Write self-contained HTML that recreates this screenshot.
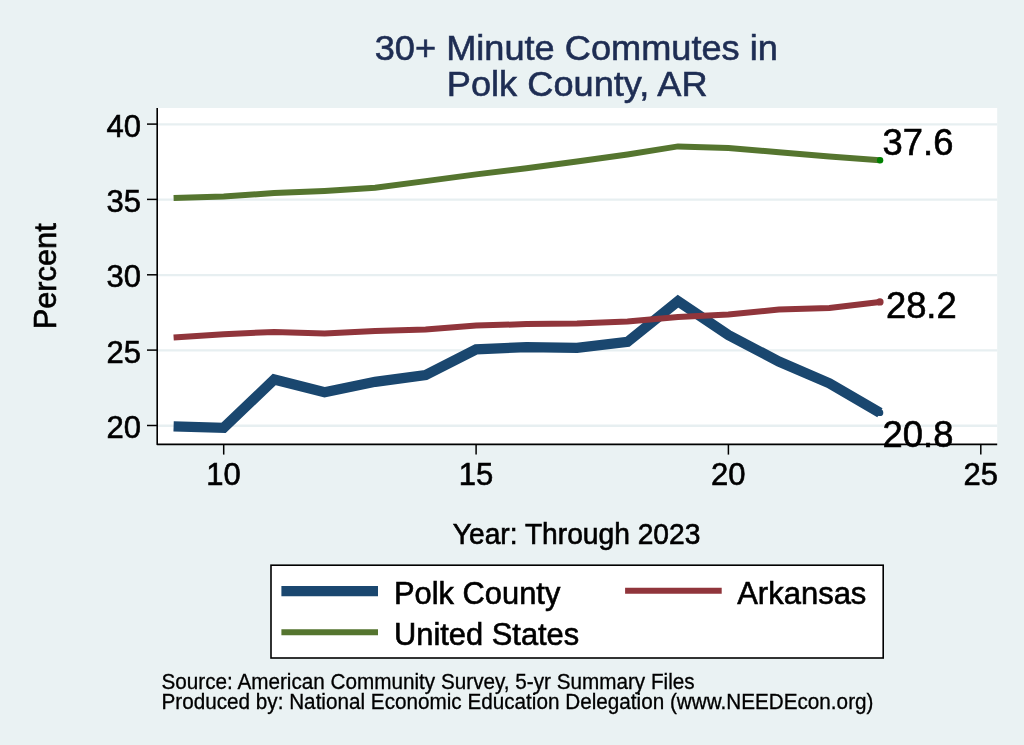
<!DOCTYPE html>
<html lang="en"><head><meta charset="utf-8"><title>30+ Minute Commutes in Polk County, AR</title>
<style>
html,body{margin:0;padding:0;background:#eaf2f3;}
body{width:1024px;height:745px;overflow:hidden;font-family:"Liberation Sans",Arial,Helvetica,sans-serif;}
svg{display:block;}
text{font-family:"Liberation Sans",Arial,Helvetica,sans-serif;}
text.k{fill:#000;stroke:#000;stroke-width:0.6px;}
text.t{fill:#1e2d53;stroke:#1e2d53;stroke-width:0.6px;}
text.n{fill:#000;stroke:#000;stroke-width:0.3px;}
</style></head><body>
<svg width="1024" height="745" viewBox="0 0 1024 745">
<rect x="0" y="0" width="1024" height="745" fill="#eaf2f3"/>
<rect x="157.2" y="108.0" width="840.0" height="336.4" fill="#ffffff"/>
<line x1="157.9" x2="997.2" y1="425.75" y2="425.75" stroke="#e7eff1" stroke-width="2.3"/>
<line x1="157.9" x2="997.2" y1="350.40" y2="350.40" stroke="#e7eff1" stroke-width="2.3"/>
<line x1="157.9" x2="997.2" y1="275.05" y2="275.05" stroke="#e7eff1" stroke-width="2.3"/>
<line x1="157.9" x2="997.2" y1="199.70" y2="199.70" stroke="#e7eff1" stroke-width="2.3"/>
<line x1="157.9" x2="997.2" y1="124.35" y2="124.35" stroke="#e7eff1" stroke-width="2.3"/>
<polyline points="173.6,426.3 223.7,427.8 274.2,379.5 324.6,392.3 375.1,381.8 425.6,375.0 476.1,349.4 526.5,347.1 577.0,347.9 627.5,341.9 678.0,301.2 728.4,335.1 778.9,361.5 829.4,383.3 879.9,412.7" fill="none" stroke="#1a476f" stroke-width="10.3" stroke-linejoin="miter"/>
<circle cx="879.9" cy="412.7" r="3.4" fill="#1a476f"/>
<polyline points="173.6,337.6 223.7,334.3 274.2,331.9 324.6,333.6 375.1,330.9 425.6,329.5 476.1,325.6 526.5,324.1 577.0,323.6 627.5,321.5 678.0,317.0 728.4,314.4 778.9,309.6 829.4,308.0 879.9,301.9" fill="none" stroke="#90353b" stroke-width="6" stroke-linejoin="miter"/>
<circle cx="879.9" cy="301.9" r="3.7" fill="#90353b"/>
<polyline points="173.6,197.9 223.7,196.4 274.2,193.1 324.6,190.9 375.1,187.7 425.6,181.1 476.1,174.4 526.5,168.3 577.0,161.5 627.5,154.5 678.0,146.4 728.4,147.9 778.9,152.3 829.4,156.5 879.9,160.3" fill="none" stroke="#55752f" stroke-width="6" stroke-linejoin="miter"/>
<circle cx="880.1" cy="160.3" r="3.2" fill="#008000"/>
<path d="M157.2,108.0 L157.2,444.4 L997.2,444.4" fill="none" stroke="#000" stroke-width="1.6" stroke-linejoin="round"/>
<line x1="147.0" x2="157.2" y1="425.5" y2="425.5" stroke="#000" stroke-width="1.5"/>
<text class="k" transform="translate(140.9,438.1) scale(1,1.04)" font-size="31" text-anchor="end">20</text>
<line x1="147.0" x2="157.2" y1="350.1" y2="350.1" stroke="#000" stroke-width="1.5"/>
<text class="k" transform="translate(140.9,362.8) scale(1,1.04)" font-size="31" text-anchor="end">25</text>
<line x1="147.0" x2="157.2" y1="274.8" y2="274.8" stroke="#000" stroke-width="1.5"/>
<text class="k" transform="translate(140.9,287.4) scale(1,1.04)" font-size="31" text-anchor="end">30</text>
<line x1="147.0" x2="157.2" y1="199.4" y2="199.4" stroke="#000" stroke-width="1.5"/>
<text class="k" transform="translate(140.9,212.0) scale(1,1.04)" font-size="31" text-anchor="end">35</text>
<line x1="147.0" x2="157.2" y1="124.1" y2="124.1" stroke="#000" stroke-width="1.5"/>
<text class="k" transform="translate(140.9,136.7) scale(1,1.04)" font-size="31" text-anchor="end">40</text>
<line x1="223.7" x2="223.7" y1="444.4" y2="454.6" stroke="#000" stroke-width="1.5"/>
<text class="k" transform="translate(223.6,484.5) scale(1,1.04)" font-size="31" text-anchor="middle">10</text>
<line x1="476.1" x2="476.1" y1="444.4" y2="454.6" stroke="#000" stroke-width="1.5"/>
<text class="k" transform="translate(476.0,484.5) scale(1,1.04)" font-size="31" text-anchor="middle">15</text>
<line x1="728.4" x2="728.4" y1="444.4" y2="454.6" stroke="#000" stroke-width="1.5"/>
<text class="k" transform="translate(728.3,484.5) scale(1,1.04)" font-size="31" text-anchor="middle">20</text>
<line x1="980.8" x2="980.8" y1="444.4" y2="454.6" stroke="#000" stroke-width="1.5"/>
<text class="k" transform="translate(980.7,484.5) scale(1,1.04)" font-size="31" text-anchor="middle">25</text>
<text class="k" transform="translate(882.6,155.2) scale(1,1.015)" font-size="36.4">37.6</text>
<text class="k" transform="translate(885.9,317.9) scale(1,1.015)" font-size="36.4">28.2</text>
<text class="k" transform="translate(882.6,447.4) scale(1,1.015)" font-size="36.4">20.8</text>
<text class="t" transform="translate(576.3,59.7) scale(1,0.99)" font-size="36.2" text-anchor="middle">30+ Minute Commutes in</text>
<text class="t" transform="translate(577.2,95.7) scale(1,0.99)" font-size="36.2" text-anchor="middle">Polk County, AR</text>
<text class="k" transform="translate(576.6,544.3) scale(1,1.04)" font-size="28.2" text-anchor="middle">Year: Through 2023</text>
<text class="k" transform="translate(55.5,276.3) rotate(-90) scale(1,1.04)" font-size="30.8" text-anchor="middle">Percent</text>
<rect x="271" y="565.2" width="612.2" height="92.8" fill="#fff" stroke="#000" stroke-width="1.6"/>
<line x1="281.4" x2="378" y1="591.05" y2="591.05" stroke="#1a476f" stroke-width="10.2"/>
<line x1="281.4" x2="378" y1="632.3" y2="632.3" stroke="#55752f" stroke-width="6"/>
<line x1="625.1" x2="721.7" y1="590.7" y2="590.7" stroke="#90353b" stroke-width="6"/>
<text class="k" transform="translate(394.0,603.9) scale(1,1.04)" font-size="30.85">Polk County</text>
<text class="k" transform="translate(394.0,645.2) scale(1,1.04)" font-size="30.85">United States</text>
<text class="k" transform="translate(737.2,603.6) scale(1,1.04)" font-size="31">Arkansas</text>
<text class="n" transform="translate(161.5,688.8) scale(1,1.04)" font-size="20.7">Source: American Community Survey, 5-yr Summary Files</text>
<text class="n" transform="translate(161.5,708.7) scale(1,1.04)" font-size="20.7">Produced by: National Economic Education Delegation (www.NEEDEcon.org)</text>
</svg>
</body></html>
